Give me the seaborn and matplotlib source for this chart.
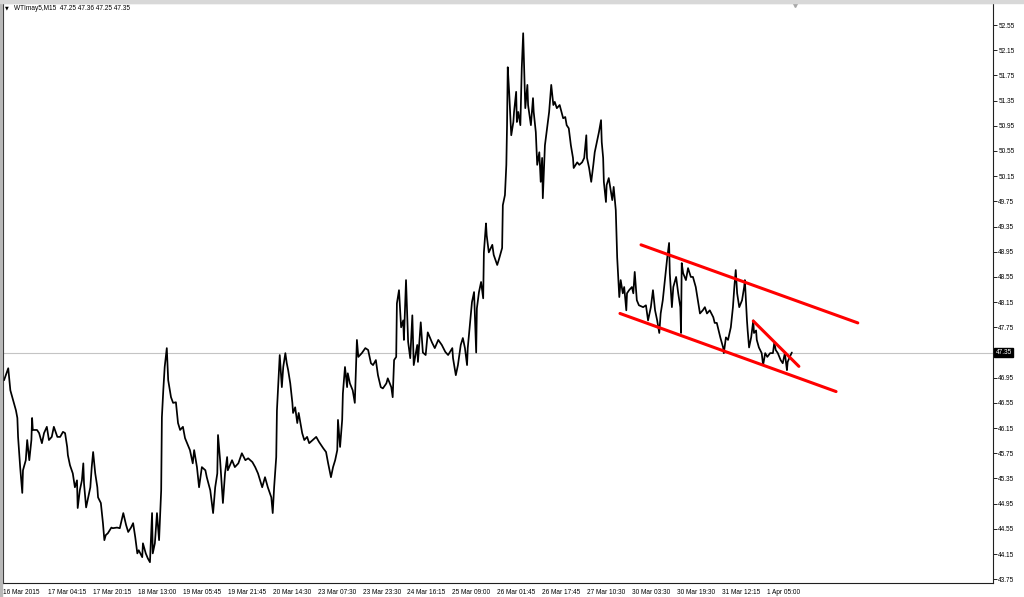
import matplotlib
matplotlib.use("Agg")
import numpy as np
import pandas as pd
import seaborn as sns
import matplotlib.pyplot as plt
import matplotlib.transforms as mtransforms
from matplotlib.patches import Rectangle

# ---------------- data ----------------
symbol_text = "WTImay5,M15  47.25 47.36 47.25 47.35"
last_price = 47.35

bar_idx = [1, 7, 10, 14, 18, 20, 21, 24, 27, 28, 32, 34, 37, 40, 41, 42, 48, 51, 55, 58,
           62, 65, 69, 72, 77, 81, 85, 88, 91, 92, 95, 99, 102, 105, 106, 109, 112, 114, 115, 118,
           121, 124, 126, 128, 131, 134, 135, 139, 142, 144, 146, 149, 154, 156, 162, 166, 171, 175, 178, 182,
           185, 188, 191, 193, 198, 199, 203, 206, 209, 212, 213, 216, 219, 222, 225, 226, 228, 230, 233, 235,
           239, 242, 246, 249, 252, 256, 259, 262, 266, 270, 272, 276, 279, 283, 288, 290, 295, 299, 302, 305,
           306, 309, 313, 316, 319, 320, 326, 330, 335, 340, 345, 349, 355, 359, 363, 369, 373, 377, 382, 384,
           386, 389, 390, 393, 394, 397, 399, 402, 404, 406, 409, 412, 413, 416, 419, 421, 426, 429, 433, 436,
           441, 446, 450, 456, 460, 463, 467, 470, 473, 476, 477, 480, 483, 484, 487, 490, 491, 494, 498, 501,
           504, 506, 511, 516, 520, 524, 527, 531, 534, 538, 541, 546, 548, 553, 555, 557, 560, 561, 564, 567,
           570, 571, 574, 577, 580, 583, 585, 590, 591, 595, 598, 602, 605, 611, 615, 620, 625, 630, 634, 640,
           641, 645, 648, 652, 655, 658, 661, 662, 665, 668, 671, 674, 675, 678, 681, 684, 685, 688, 689, 692,
           697, 699, 704, 707, 711, 712, 715, 717, 718, 719, 721, 724, 727, 728, 731, 732, 734, 737, 739, 741,
           744, 747, 748, 752, 755, 756, 759, 761, 764, 766, 768, 769, 772, 775, 778, 781, 784, 786, 789, 793,
           798, 801, 803, 806, 809, 812, 813, 818, 821, 825, 828, 831, 832, 835, 838, 841, 843, 846, 849, 852,
           853, 855, 856, 859, 860, 863, 868, 870, 873, 875, 876, 878, 880, 883, 885, 888, 889, 892, 896, 898,
           900, 903, 906, 912, 916, 919, 923, 926, 929, 932, 935, 937, 940, 942, 946, 949, 950, 953, 955, 959,
           962, 965, 966, 967, 969, 973, 976, 980, 983, 987, 990, 993, 997, 1000, 1003, 1007, 1012, 1014, 1017, 1022,
           1026, 1027, 1030, 1033, 1037, 1040, 1042, 1044, 1046, 1049, 1053, 1056, 1057, 1060, 1061, 1063, 1066, 1069, 1070, 1073,
           1074, 1077, 1081, 1083, 1086, 1089, 1093, 1097, 1099, 1101, 1104, 1108, 1111, 1114, 1117, 1118, 1121, 1124]

price = [46.91, 47.10, 46.75, 46.59, 46.43, 46.31, 46.01, 45.53, 45.12, 45.48, 45.64, 45.96, 45.64, 45.96, 46.31, 46.12, 46.12, 46.07, 45.91, 46.07,
         46.17, 45.96, 46.01, 46.17, 46.01, 46.01, 46.09, 46.07, 45.85, 45.72, 45.56, 45.43, 45.21, 45.32, 44.88, 45.16, 45.32, 45.59, 45.27, 44.89,
         45.05, 45.21, 45.53, 45.77, 45.43, 45.21, 45.05, 44.96, 44.64, 44.37, 44.45, 44.48, 44.57, 44.56, 44.57, 44.56, 44.80, 44.61, 44.50, 44.57,
         44.64, 44.42, 44.16, 44.21, 44.10, 44.32, 44.16, 44.08, 44.02, 44.80, 44.16, 44.32, 44.80, 44.37, 45.16, 46.32, 46.75, 47.12, 47.42, 46.91,
         46.64, 46.55, 46.56, 46.23, 46.12, 46.17, 45.99, 45.91, 45.80, 45.59, 45.80, 45.53, 45.21, 45.53, 45.48, 45.37, 45.16, 44.80, 45.21, 45.43,
         46.04, 45.64, 44.96, 45.43, 45.69, 45.48, 45.64, 45.53, 45.59, 45.75, 45.64, 45.67, 45.61, 45.53, 45.43, 45.21, 45.37, 45.21, 45.05, 44.80,
         45.21, 45.69, 46.43, 47.07, 47.31, 46.80, 47.12, 47.34, 47.18, 47.07, 46.86, 46.55, 46.39, 46.48, 46.23, 46.39, 46.07, 45.96, 46.01, 45.91,
         45.96, 46.01, 45.93, 45.83, 45.77, 45.59, 45.37, 45.53, 45.64, 45.80, 46.28, 45.85, 46.28, 46.70, 47.12, 46.80, 47.02, 46.86, 46.75, 46.55,
         47.55, 47.28, 47.34, 47.42, 47.39, 47.18, 47.15, 47.23, 46.99, 46.80, 46.78, 46.86, 46.94, 46.80, 46.64, 47.23, 47.28, 48.13, 48.34, 47.75,
         47.86, 47.55, 48.50, 47.52, 47.26, 47.94, 47.15, 47.47, 47.20, 47.83, 47.35, 47.31, 47.67, 47.51, 47.42, 47.55, 47.47, 47.36, 47.31, 47.42,
         47.26, 46.99, 47.15, 47.47, 47.58, 47.42, 47.15, 47.42, 47.78, 48.15, 48.31, 47.35, 48.05, 48.31, 48.47, 48.21, 48.94, 49.40, 49.21, 48.94,
         49.06, 48.90, 48.74, 48.85, 49.01, 49.69, 49.85, 50.33, 50.96, 51.88, 51.49, 50.80, 51.01, 51.17, 51.49, 51.01, 51.17, 50.96, 51.87, 52.42,
         51.23, 51.60, 51.28, 50.96, 51.39, 51.17, 50.85, 50.33, 50.53, 50.06, 50.44, 49.80, 50.64, 50.91, 51.17, 51.60, 51.28, 51.33, 51.23, 51.28,
         51.07, 51.09, 50.96, 50.91, 50.64, 50.44, 50.28, 50.37, 50.33, 50.37, 50.44, 50.80, 50.44, 50.28, 50.06, 50.33, 50.53, 50.69, 50.85, 51.04,
         50.69, 50.44, 50.06, 49.74, 50.01, 50.12, 49.77, 49.98, 49.61, 48.86, 48.66, 48.23, 48.50, 48.29, 48.39, 48.02, 48.29, 48.34, 48.39, 48.29,
         48.63, 48.18, 48.10, 48.07, 48.10, 47.86, 48.07, 48.34, 48.02, 47.86, 47.66, 47.97, 48.18, 48.39, 48.82, 49.09, 48.61, 48.07, 48.39, 48.55,
         48.29, 48.07, 47.66, 48.77, 48.61, 48.50, 48.69, 48.55, 48.55, 48.39, 48.18, 47.97, 48.02, 48.07, 47.97, 48.02, 47.91, 47.82, 47.82, 47.59,
         47.43, 47.34, 47.59, 47.55, 47.75, 48.07, 48.39, 48.66, 48.29, 48.07, 48.18, 48.39, 48.50, 47.86, 47.70, 47.43, 47.59, 47.86, 47.66, 47.70,
         47.55, 47.43, 47.34, 47.15, 47.34, 47.28, 47.34, 47.34, 47.51, 47.39, 47.34, 47.23, 47.18, 47.34, 47.07, 47.20, 47.28, 47.35]

x_tick_bars = [0, 64, 128, 192, 256, 320, 384, 448, 512, 576, 640, 704, 768, 832, 896, 960, 1024, 1088]
x_tick_labels = ["16 Mar 2015", "17 Mar 04:15", "17 Mar 20:15", "18 Mar 13:00", "19 Mar 05:45",
                 "19 Mar 21:45", "20 Mar 14:30", "23 Mar 07:30", "23 Mar 23:30", "24 Mar 16:15",
                 "25 Mar 09:00", "26 Mar 01:45", "26 Mar 17:45", "27 Mar 10:30", "30 Mar 03:30",
                 "30 Mar 19:30", "31 Mar 12:15", "1 Apr 05:00"]
y_ticks = [43.75, 44.15, 44.55, 44.95, 45.35, 45.75, 46.15, 46.55, 46.95, 47.35, 47.75,
           48.15, 48.55, 48.95, 49.35, 49.75, 50.15, 50.55, 50.95, 51.35, 51.75, 52.15, 52.55]

upper_bar = [909, 1218]
upper_price = [49.06, 47.82]
lower_bar = [879, 1187]
lower_price = [47.97, 46.73]
wedge_bar = [1069, 1134]
wedge_price = [47.85, 47.13]
shift_marker_bar = 1128

# ---------------- drawing ----------------
sns.set_style("white")
plt.rcParams['font.family'] = ['Liberation Sans', 'DejaVu Sans']

fig = plt.figure(figsize=(10.24, 5.97), dpi=100, facecolor='white')
ax = fig.add_axes([0.00264, 0.02295, 0.9666, 0.972])
ax.set_facecolor('white')

# frame strips like the terminal window
fig.patches.append(Rectangle((0, 0), 0.0022, 1, transform=fig.transFigure, color='#b8b8b8', zorder=0))
fig.patches.append(Rectangle((0, 0.9955), 1, 0.0045, transform=fig.transFigure, color='#d8d8d8', zorder=0))

ax.axhline(last_price, color='#c4c4c4', lw=0.8, zorder=1)

df = pd.DataFrame({"bar": bar_idx, "price": price})
sns.lineplot(data=df, x="bar", y="price", ax=ax, color='black', lw=1.25,
             estimator=None, sort=False, zorder=3)

for bx, py in [(upper_bar, upper_price), (lower_bar, lower_price), (wedge_bar, wedge_price)]:
    sns.lineplot(x=bx, y=py, ax=ax, color='#ff0000', lw=2.2, estimator=None, sort=False, zorder=4)

ax.set_xlim(-0.9, 1410)
ax.set_ylim(43.685, 52.90)

ax.set_xlabel("")
ax.set_ylabel("")
ax.set_xticks(x_tick_bars)
ax.set_xticklabels(x_tick_labels, ha='left', fontsize=4.7)
ax.tick_params(axis='x', length=3, width=0.6, pad=1.2, direction='out', colors='black')

ax.yaxis.tick_right()
ax.set_yticks(y_ticks)
# the last-price tag takes the place of its own tick label
ax.set_yticklabels(["" if abs(v - last_price) < 1e-9 else f"{v:.2f}" for v in y_ticks], fontsize=4.7)
ax.tick_params(axis='y', length=3, width=0.6, pad=1.2, direction='out', colors='black')

for side in ['left', 'right', 'bottom']:
    ax.spines[side].set_color('#202020')
    ax.spines[side].set_linewidth(0.8)
ax.spines['top'].set_color('#a0a0a0')
ax.spines['top'].set_linewidth(0.8)

# header text
ax.text(0.0043, 0.9914, "\u25bc", transform=ax.transAxes, fontsize=3.5, va='center', ha='center',
        family=['DejaVu Sans'], color='black')
ax.text(0.0114, 0.9914, symbol_text, transform=ax.transAxes, fontsize=4.7, va='center', ha='left',
        color='black')

# current price box on the axis
trans = mtransforms.blended_transform_factory(ax.transAxes, ax.transData)
ax.text(1.0032, last_price, f"{last_price:.2f}", transform=trans, fontsize=4.7, va='center', ha='left',
        color='white', zorder=10,
        bbox=dict(boxstyle='square,pad=0.2', fc='black', ec='black'))

# chart-shift marker at top
ax.plot([shift_marker_bar], [52.88], marker='v', color='#a8a8a8', markersize=4, clip_on=False, zorder=5)

fig.savefig("out.png", dpi=100, facecolor=fig.get_facecolor())
